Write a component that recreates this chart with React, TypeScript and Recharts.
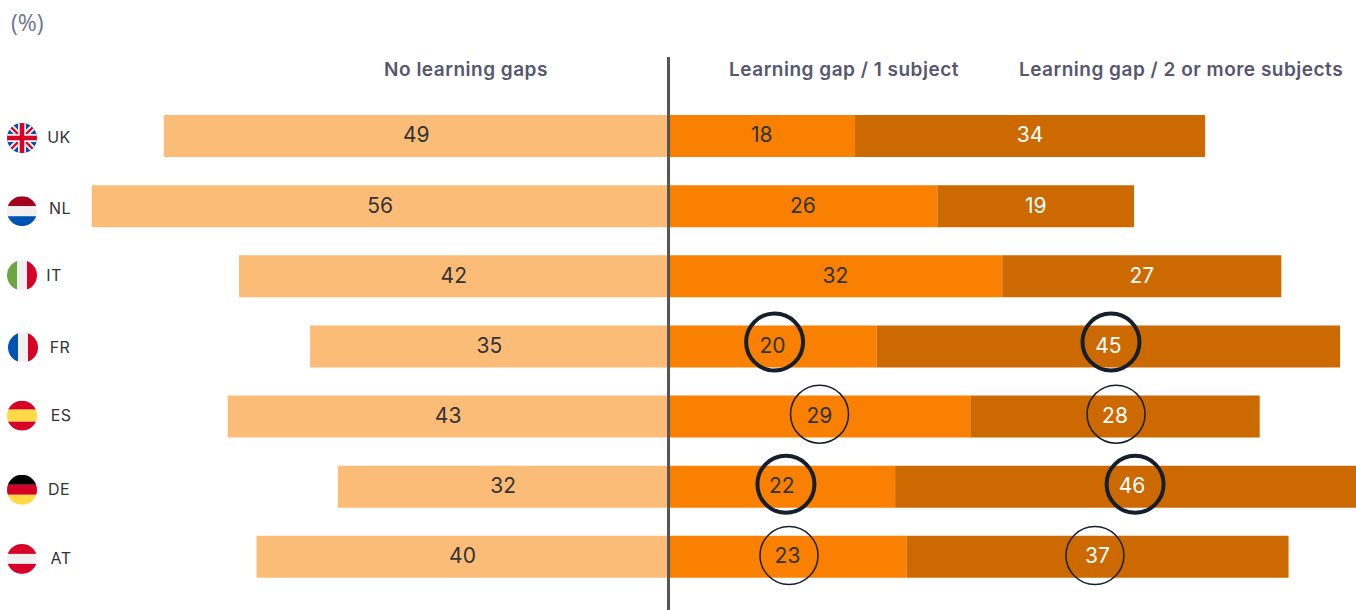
import { BarChart, Bar, XAxis, YAxis, LabelList, ReferenceLine, ReferenceDot } from 'recharts';

const countries = ['UK', 'NL', 'IT', 'FR', 'ES', 'DE', 'AT'];
// estimated unrounded shares, the labels show them rounded
const noGaps = [49, 56, 41.7, 34.8, 42.8, 32.1, 40];
const oneSubject = [18.1, 26.1, 32.4, 20.2, 29.3, 22, 23.1];
const twoOrMore = [34, 19.1, 27.1, 45, 28.1, 46, 37.1];
const headers = ['No learning gaps', 'Learning gap / 1 subject', 'Learning gap / 2 or more subjects'];

// circled values, position read along the value axis
const heavyCircles = [
  { country: 'FR', at: 10.3 },
  { country: 'FR', at: 42.96 },
  { country: 'DE', at: 11.4 },
  { country: 'DE', at: 45.3 },
];
const thinCircles = [
  { country: 'ES', at: 14.66 },
  { country: 'ES', at: 43.45 },
  { country: 'AT', at: 11.7 },
  { country: 'AT', at: 41.4 },
];

const data = countries.map((name, i) => ({
  name,
  noGaps: -noGaps[i],
  one: oneSubject[i],
  two: twoOrMore[i],
}));

const LIGHT = '#FBBC78';
const ORANGE = '#F98000';
const DARK = '#CC6900';
const FONT = 'Inter, "Open Sans", sans-serif';

const stripes: Record<string, { dir: 'h' | 'v'; colors: string[]; sizes?: number[] }> = {
  NL: { dir: 'h', colors: ['#A2001D', '#F0F0F0', '#0052B4'] },
  IT: { dir: 'v', colors: ['#6DA544', '#F0F0F0', '#D80027'] },
  FR: { dir: 'v', colors: ['#0052B4', '#F0F0F0', '#D80027'] },
  ES: { dir: 'h', colors: ['#D80027', '#FFDA44', '#D80027'], sizes: [0.3, 0.4, 0.3] },
  DE: { dir: 'h', colors: ['#000000', '#D80027', '#FFDA44'] },
  AT: { dir: 'h', colors: ['#D80027', '#F0F0F0', '#D80027'] },
};

// small per-row nudges of the flag + code column
const tickNudge: Record<string, { flagDy: number; textX: number; textDy: number }> = {
  UK: { flagDy: 2, textX: 59, textDy: 1 },
  NL: { flagDy: 5, textX: 60, textDy: 2 },
  IT: { flagDy: -1, textX: 54, textDy: -1 },
  FR: { flagDy: 1, textX: 60, textDy: 1 },
  ES: { flagDy: -1, textX: 61, textDy: -1 },
  DE: { flagDy: 3, textX: 59, textDy: 3 },
  AT: { flagDy: 2, textX: 61, textDy: 1 },
};
const circleDy: Record<string, number> = { FR: -4.5, ES: -2.5, DE: -2.5, AT: -1.5 };

function Flag({ code, cx, cy, r }: { code: string; cx: number; cy: number; r: number }) {
  const id = `clip-${code}`;
  const s = stripes[code];
  let body: any;
  if (code === 'UK') {
    body = (
      <g>
        <rect x={cx - r} y={cy - r} width={r * 2} height={r * 2} fill="#0052B4" />
        <path d={`M${cx - r} ${cy - r}L${cx + r} ${cy + r}M${cx + r} ${cy - r}L${cx - r} ${cy + r}`} stroke="#F0F0F0" strokeWidth={6} />
        <path d={`M${cx - r} ${cy - r}L${cx + r} ${cy + r}M${cx + r} ${cy - r}L${cx - r} ${cy + r}`} stroke="#D80027" strokeWidth={2.2} />
        <path d={`M${cx} ${cy - r}V${cy + r}M${cx - r} ${cy}H${cx + r}`} stroke="#F0F0F0" strokeWidth={8} />
        <path d={`M${cx} ${cy - r}V${cy + r}M${cx - r} ${cy}H${cx + r}`} stroke="#D80027" strokeWidth={4.5} />
      </g>
    );
  } else {
    const sizes = s.sizes ?? [1 / 3, 1 / 3, 1 / 3];
    let offset = 0;
    body = s.colors.map((c, i) => {
      const size = sizes[i] * r * 2;
      const rect =
        s.dir === 'h' ? (
          <rect key={i} x={cx - r} y={cy - r + offset} width={r * 2} height={size} fill={c} />
        ) : (
          <rect key={i} x={cx - r + offset} y={cy - r} width={size} height={r * 2} fill={c} />
        );
      offset += size;
      return rect;
    });
  }
  return (
    <g>
      <clipPath id={id}>
        <circle cx={cx} cy={cy} r={r} />
      </clipPath>
      <g clipPath={`url(#${id})`}>{body}</g>
    </g>
  );
}

function CountryTick({ y, payload }: any) {
  const code = payload.value as string;
  const n = tickNudge[code];
  return (
    <g>
      <Flag code={code} cx={code === 'FR' ? 23 : 22} cy={y + n.flagDy} r={15} />
      <text x={n.textX} y={y + n.textDy} dy="0.35em" textAnchor="middle" fontFamily={FONT} fontSize={16} letterSpacing={0.4} fill="#333333">
        {code}
      </text>
    </g>
  );
}

const circleShape = (r: number, width: number, country: string) => (props: any) => (
  <circle cx={props.cx} cy={props.cy + circleDy[country]} r={r} fill="none" stroke="#14202E" strokeWidth={width} />
);

const showRounded = (v: any) => Math.round(Math.abs(v));
const headerX = [466, 844, 1181];

export default function App() {
  return (
    <div style={{ position: 'absolute', left: 0, top: 0, width: 1356, height: 610, overflow: 'hidden', background: '#fff' }}>
      {/* wider than the page on purpose: the DE bar runs off the right edge */}
      <BarChart
        width={1376}
        height={610}
        data={data}
        layout="vertical"
        stackOffset="sign"
        margin={{ top: 101, right: 0, bottom: 18, left: 0 }}
      >
        <XAxis type="number" hide domain={[-57.14, 68.69]} allowDataOverflow />
        <YAxis type="category" dataKey="name" width={80} axisLine={false} tickLine={false} tick={CountryTick} interval={0} />
        <Bar dataKey="noGaps" stackId="a" fill={LIGHT} barSize={42} isAnimationActive={false}>
          <LabelList dataKey="noGaps" position="center" formatter={showRounded} fill="#333333" fontSize={21} fontFamily={FONT} dy={-1} />
        </Bar>
        <Bar dataKey="one" stackId="a" fill={ORANGE} barSize={42} isAnimationActive={false}>
          <LabelList dataKey="one" position="center" formatter={showRounded} fill="#333333" fontSize={21} fontFamily={FONT} dy={-1} />
        </Bar>
        <Bar dataKey="two" stackId="a" fill={DARK} barSize={42} isAnimationActive={false}>
          <LabelList dataKey="two" position="center" formatter={showRounded} fill="#ffffff" fontSize={21} fontFamily={FONT} dy={-1} />
        </Bar>
        <ReferenceLine
          x={0}
          ifOverflow="visible"
          shape={(p: any) => <line x1={p.x1} x2={p.x1} y1={57} y2={610} stroke="#555555" strokeWidth={3} />}
        />
        {thinCircles.map((c) => (
          <ReferenceDot key={c.country + c.at} x={c.at} y={c.country} ifOverflow="visible" shape={circleShape(29, 1.5, c.country)} />
        ))}
        {heavyCircles.map((c) => (
          <ReferenceDot key={c.country + c.at} x={c.at} y={c.country} ifOverflow="visible" shape={circleShape(28.5, 4, c.country)} />
        ))}
      </BarChart>
      <div style={{ position: 'absolute', left: 11, top: 6, fontFamily: '"Open Sans", sans-serif', fontSize: 23, color: '#6F7590' }}>(%)</div>
      {headers.map((h, i) => (
        <div
          key={h}
          style={{
            position: 'absolute',
            left: headerX[i],
            top: 58,
            transform: 'translateX(-50%)',
            whiteSpace: 'nowrap',
            fontFamily: FONT,
            fontWeight: 600,
            fontSize: 19,
            letterSpacing: 0.5,
            color: '#55566F',
          }}
        >
          {h}
        </div>
      ))}
    </div>
  );
}
